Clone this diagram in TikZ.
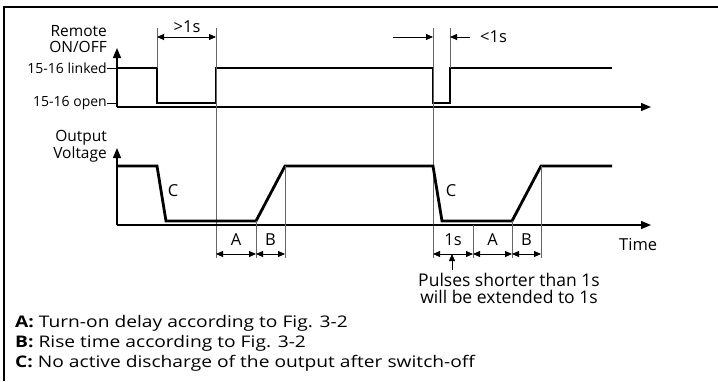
\documentclass[tikz,border=0pt]{standalone}
\usepackage{fontspec}
\setmainfont{Open Sans}
\newfontfamily\legendfont{Open Sans}[FakeStretch=1.2]
\usetikzlibrary{arrows.meta}
\begin{document}
\begin{tikzpicture}[x=1pt,y=-1pt,
  lbl/.style={inner sep=0pt, font=\fontsize{16.5}{18}\selectfont},
  axl/.style={inner sep=0pt, font=\fontsize{15.5}{17}\selectfont},
  lvl/.style={inner sep=0pt, font=\fontsize{14}{16}\selectfont},
  note/.style={inner sep=0pt, font=\fontsize{17.5}{19}\selectfont},
  legend/.style={inner sep=0pt, font=\legendfont\fontsize{16}{19}\selectfont},
  axisline/.style={line width=1.3pt, -{Triangle[length=10pt,width=8pt]}},
  sig/.style={line width=2.8pt, line join=miter},
  guide/.style={line width=0.7pt, black!60},
  dimarrow/.style={line width=0.8pt, {Triangle[length=7pt,width=6pt]}-{Triangle[length=7pt,width=6pt]}},
  onearrow/.style={line width=0.8pt, -{Triangle[length=7pt,width=6pt]}}]
\useasboundingbox (0,0) rectangle (718,381);
% frame
\draw[line width=1.4pt] (4,381) -- (4,7) -- (718,7);
% ---------- top diagram ----------
\coordinate (o1) at (117,107);
\draw[axisline] (o1) -- (117,48);
\draw[axisline] (o1) -- (651,107);
\draw[sig] (117,68) -- (157,68) -- (157,103) -- (216,103) -- (216,68) -- (433,68) -- (433,103) -- (450,103) -- (450,68) -- (612,68);
\coordinate (tl) at (107,68);
\coordinate (to) at (107,103);
\draw[line width=0.8pt] (tl) -- (117,68);
\draw[line width=0.8pt] (to) -- (117,103);
\node[lvl, anchor=east] (linked) at (tl) {15-16 linked};
\node[lvl, anchor=east] (open) at (to) {15-16 open};
\node[axl, anchor=base east] (remote1) at (107,36) {Remote};
\node[axl, anchor=base east] (remote2) at (107,52) {ON/OFF};
% guides top
\coordinate (g1t) at (157,28); \coordinate (g1b) at (157,68);
\coordinate (g2t) at (216,28); \coordinate (g2b) at (216,258);
\coordinate (g3t) at (433,28); \coordinate (g3b) at (433,258);
\coordinate (g4t) at (450,28); \coordinate (g4b) at (450,68);
\draw[guide] (g1t) -- (g1b);
\draw[guide] (g2t) -- (g2b);
\draw[guide] (g3t) -- (g3b);
\draw[guide] (g4t) -- (g4b);
\coordinate (d1a) at (157,37); \coordinate (d1b) at (216,37);
\draw[dimarrow] (d1a) -- (d1b);
\node[lbl, anchor=base] (gt1) at (187,32) {>1s};
\coordinate (d2a) at (393,37); \coordinate (d2b) at (433,37);
\coordinate (d3a) at (470,37); \coordinate (d3b) at (450,37);
\draw[onearrow] (d2a) -- (d2b);
\draw[onearrow] (d3a) -- (d3b);
\node[lbl, anchor=base west] (lt1) at (480,42) {<1s};
% ---------- bottom diagram ----------
\coordinate (o2) at (117,225);
\draw[axisline] (o2) -- (117,148);
\draw[axisline] (o2) -- (651,225);
\node[axl, anchor=base east] (outv1) at (107,141.5) {Output};
\node[axl, anchor=base east] (outv2) at (107,158) {Voltage};
\draw[sig] (117,166) -- (157,166) -- (166,221) -- (256,221) -- (285,166) -- (433,166) -- (442,221) -- (512,221) -- (541,166) -- (612,166);
\node[lbl] (c1) at (173,191) {C};
\node[lbl] (c2) at (451,191) {C};
\node[lbl, anchor=base west] (time) at (619,250) {Time};
% guides bottom
\draw[guide] (256,221) -- (256,258);
\draw[guide] (285,166) -- (285,258);
\draw[guide] (473,225) -- (473,258);
\draw[guide] (512,221) -- (512,258);
\draw[guide] (541,166) -- (541,258);
% dimension arrows
\coordinate (p1) at (216,254); \coordinate (p2) at (256,254); \coordinate (p3) at (285,254);
\coordinate (q1) at (433,254); \coordinate (q2) at (473,254); \coordinate (q3) at (512,254); \coordinate (q4) at (541,254);
\draw[dimarrow] (p1) -- (p2);
\draw[dimarrow] (p2) -- (p3);
\draw[dimarrow] (q1) -- (q2);
\draw[dimarrow] (q2) -- (q3);
\draw[dimarrow] (q3) -- (q4);
\node[lbl, anchor=base] (la1) at (236,245.5) {A};
\node[lbl, anchor=base] (lb1) at (270.5,245.5) {B};
\node[lbl, anchor=base] (l1s) at (453,245.5) {1s};
\node[lbl, anchor=base] (la2) at (492.5,245.5) {A};
\node[lbl, anchor=base] (lb2) at (526.5,245.5) {B};
% pointer
\node[note, anchor=base] (pulses1) at (509,286) {Pulses shorter than 1s};
\node[note, anchor=base] (pulses2) at (509,303) {will be extended to 1s};
\coordinate (ptip) at (452,254);
\coordinate (pbase) at (452,270);
\draw[onearrow] (pbase) -- (ptip);
% legend
\node[legend, anchor=base west] (legA) at (15,327) {\textbf{A:} Turn-on delay according to Fig. 3-2};
\node[legend, anchor=base west] (legB) at (15,347) {\textbf{B:} Rise time according to Fig. 3-2};
\node[legend, anchor=base west] (legC) at (15,367) {\textbf{C:} No active discharge of the output after switch-off};
\end{tikzpicture}
\end{document}
